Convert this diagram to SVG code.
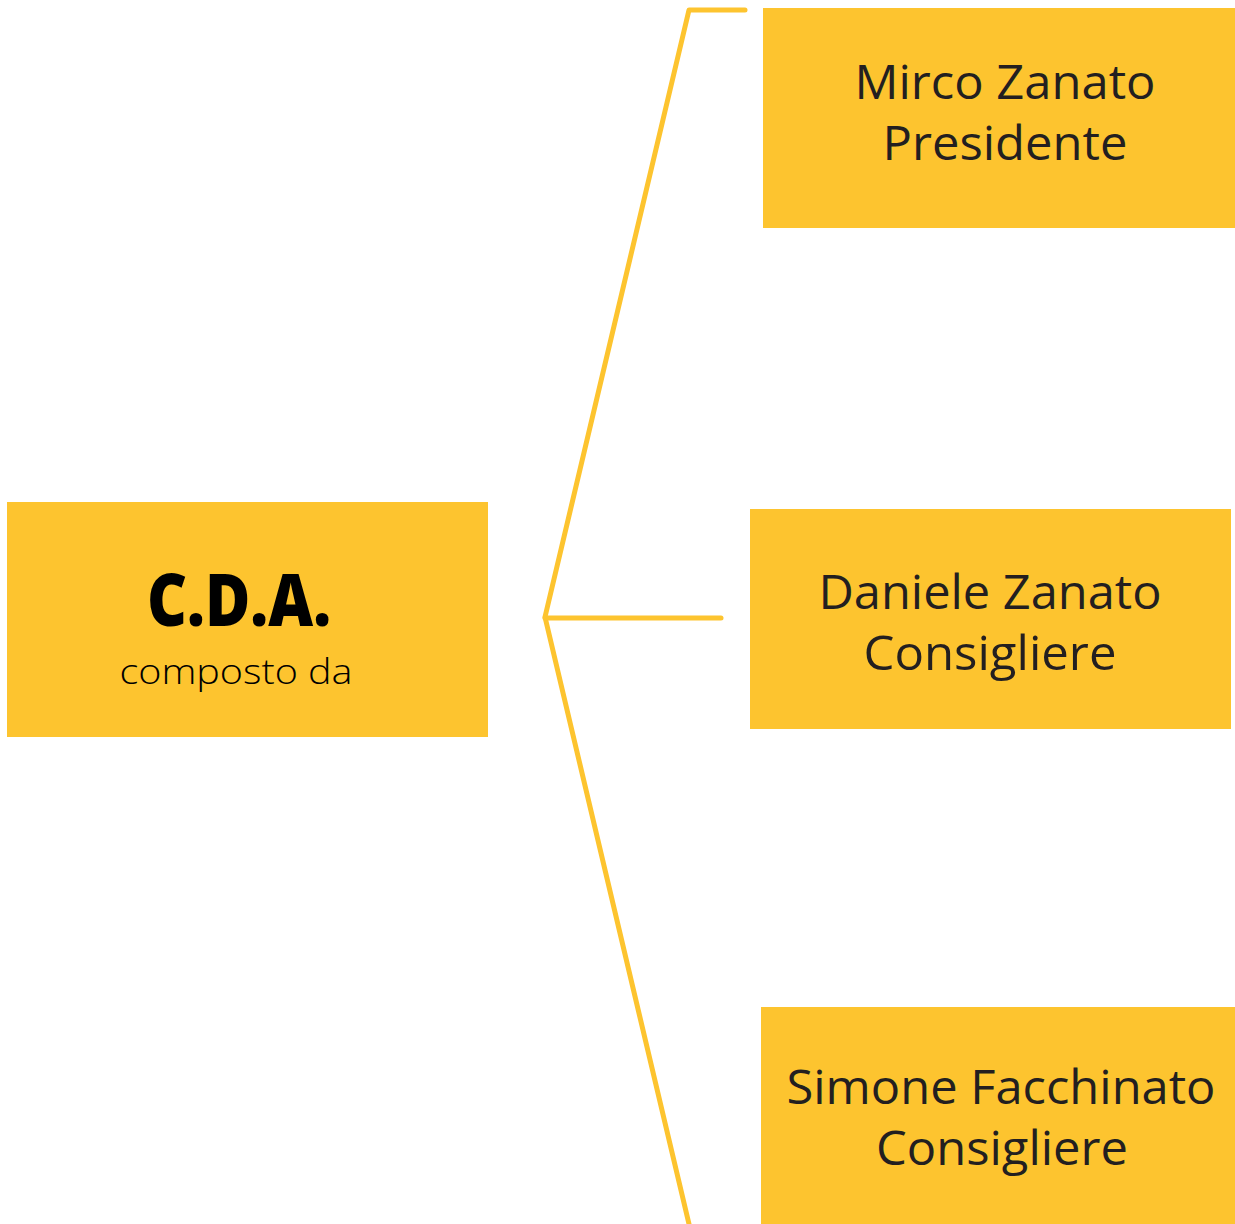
<svg xmlns="http://www.w3.org/2000/svg" width="1235" height="1224" viewBox="0 0 1235 1224">
<style>
.box{fill:#FDC42F}
.line{fill:none;stroke:#FDC42F;stroke-width:5;stroke-linecap:round;stroke-linejoin:round}
.name{font-family:"Open Sans","Liberation Sans",sans-serif;font-size:47px;fill:#231F20;text-anchor:middle}
.title{font-family:"Open Sans","Liberation Sans",sans-serif;font-size:72px;font-weight:800;fill:#000;text-anchor:middle}
.sub{font-family:"Open Sans","Liberation Sans",sans-serif;font-size:34px;font-weight:300;fill:#000;text-anchor:middle}
</style>
<rect width="1235" height="1224" fill="#fff"/>
<g id="connectors">
<polyline class="line" points="745,10 689,10 545,617 689,1224"/>
<line class="line" x1="545" y1="618" x2="721" y2="618" stroke-linecap="butt"/>
</g>
<g id="cda">
<rect class="box" x="7" y="502" width="481" height="235"/>
<text class="title" x="239" y="626" textLength="184" lengthAdjust="spacingAndGlyphs">C.D.A.</text>
<text class="sub" x="236" y="684" textLength="233" lengthAdjust="spacingAndGlyphs">composto da</text>
</g>
<g id="mirco">
<rect class="box" x="763" y="8" width="472" height="220"/>
<text class="name" x="1005" y="99" textLength="301" lengthAdjust="spacingAndGlyphs">Mirco Zanato</text>
<text class="name" x="1005" y="160" textLength="245" lengthAdjust="spacingAndGlyphs">Presidente</text>
</g>
<g id="daniele">
<rect class="box" x="750" y="509" width="481" height="220"/>
<text class="name" x="990" y="609" textLength="343" lengthAdjust="spacingAndGlyphs">Daniele Zanato</text>
<text class="name" x="990" y="670" textLength="253" lengthAdjust="spacingAndGlyphs">Consigliere</text>
</g>
<g id="simone">
<rect class="box" x="761" y="1007" width="474" height="217"/>
<text class="name" x="1001" y="1104" textLength="429" lengthAdjust="spacingAndGlyphs">Simone Facchinato</text>
<text class="name" x="1002" y="1165" textLength="252" lengthAdjust="spacingAndGlyphs">Consigliere</text>
</g>
</svg>
